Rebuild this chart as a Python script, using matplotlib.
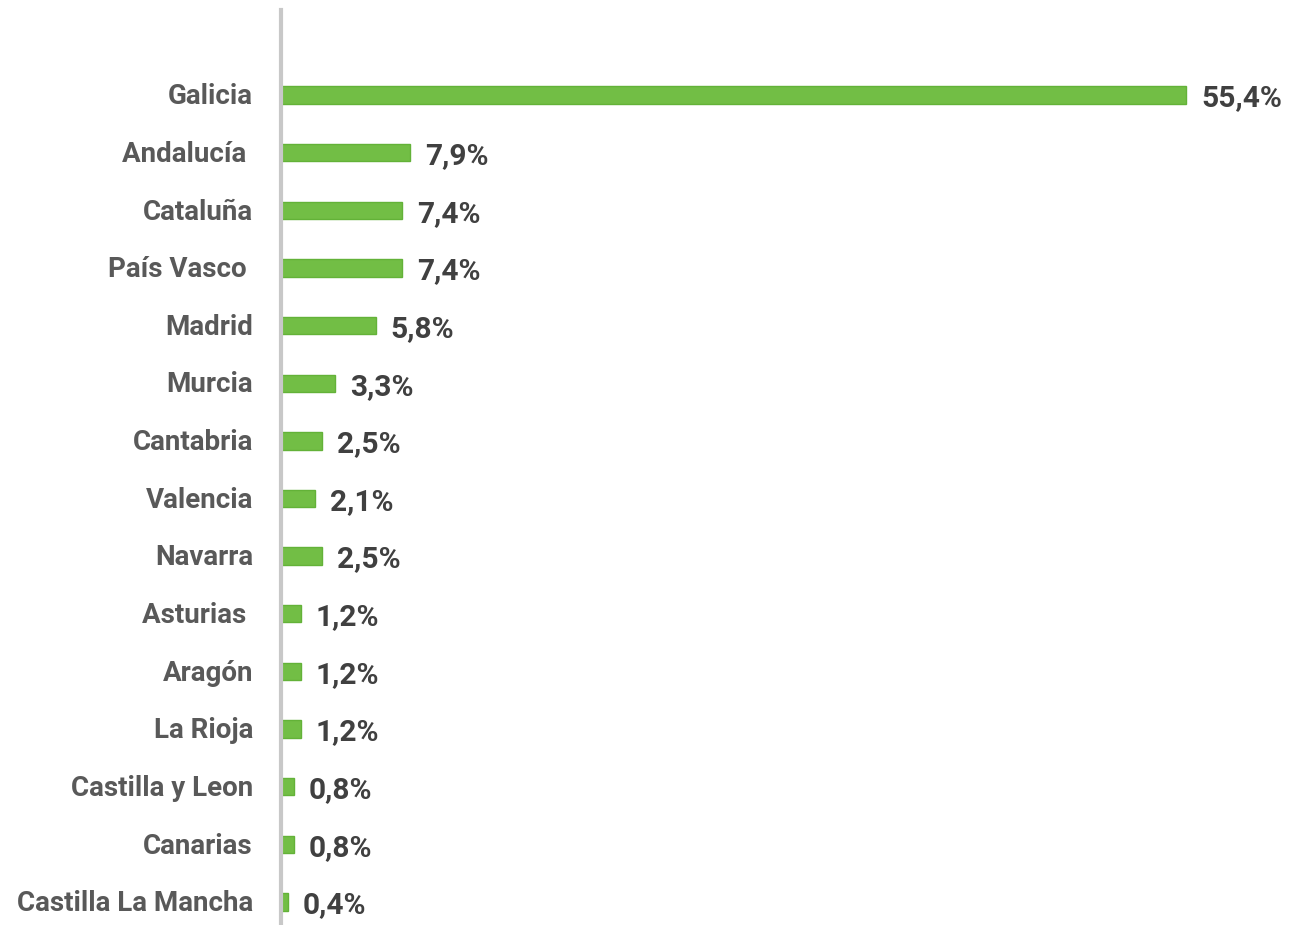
import matplotlib
matplotlib.use("Agg")
import matplotlib.pyplot as plt

regions = ["Galicia", "Andalucía ", "Cataluña", "País Vasco ", "Madrid", "Murcia",
           "Cantabria", "Valencia", "Navarra", "Asturias ", "Aragón", "La Rioja",
           "Castilla y Leon", "Canarias", "Castilla La Mancha"]
values = [55.4, 7.9, 7.4, 7.4, 5.8, 3.3, 2.5, 2.1, 2.5, 1.2, 1.2, 1.2, 0.8, 0.8, 0.4]
value_labels = ["55,4%", "7,9%", "7,4%", "7,4%", "5,8%", "3,3%", "2,5%", "2,1%",
                "2,5%", "1,2%", "1,2%", "1,2%", "0,8%", "0,8%", "0,4%"]

plt.rcParams['font.family'] = ['Roboto', 'DejaVu Sans']

W, H = 1294, 925
fig = plt.figure(figsize=(W / 100, H / 100), dpi=100)
left_px = 281
ax = fig.add_axes([left_px / W, 0, 1 - left_px / W, 1])

px_per_unit = (1187 - 282) / 55.4
ax.set_xlim(0, (W - left_px) / px_per_unit)
step = 57.64
top_idx = -95 / step
bot_idx = 14 + 23 / step
ax.set_ylim(bot_idx, top_idx)

y = list(range(len(regions)))
ax.barh(y, values, height=0.3, color="#72be45", edgecolor="#63b238", linewidth=1.0)

for yi, v, lab in zip(y, values, value_labels):
    ax.text(v + 15 / px_per_unit, yi + 0.06, lab, va="center", ha="left",
            fontsize=21.5, fontweight="bold", color="#404040")

for yi, r in zip(y, regions):
    ax.text(-28 / px_per_unit, yi + 0.03, r, va="center", ha="right",
            fontsize=20, fontweight="bold", color="#595959")

for s in ["top", "right", "bottom"]:
    ax.spines[s].set_visible(False)
ax.spines["left"].set_color("#c8c8c8")
ax.spines["left"].set_linewidth(3)
ax.spines["left"].set_bounds(bot_idx, -85 / step)
ax.set_xticks([])
ax.set_yticks([])
ax.patch.set_alpha(0)

fig.savefig("out.png", dpi=100)
